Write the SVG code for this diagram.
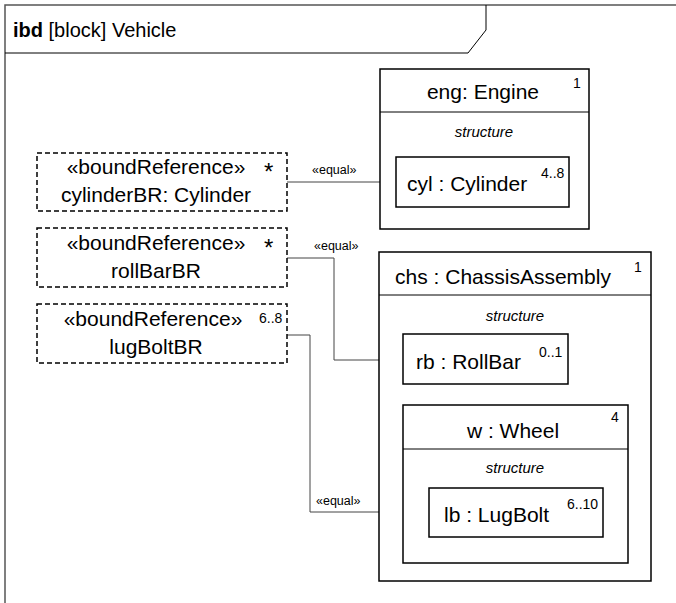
<svg xmlns="http://www.w3.org/2000/svg" width="676" height="603" viewBox="0 0 676 603">
<style>
text{font-family:"Liberation Sans",Arial,sans-serif;fill:#000}
.box{fill:#fff;stroke:#000;stroke-width:1.5}
.ref{fill:#fff;stroke:#000;stroke-width:1.5;stroke-dasharray:5 3}
.div{stroke:#000;stroke-width:1}
.name{font-size:21px;text-anchor:middle}
.part{font-size:21px}
.struct{font-size:15px;font-style:italic;text-anchor:middle}
.mult{font-size:14px}
.eq{font-size:12.5px}
.conn{fill:none;stroke:#444;stroke-width:1}
</style>
<g id="frame">
<path d="M5,603 V5 H676" fill="none" stroke="#555" stroke-width="1.5"/>
<path d="M5,53 H468 L486,30 V5" fill="none" stroke="#000" stroke-width="1"/>
<text x="13" y="37" font-size="20"><tspan font-weight="bold">ibd</tspan> [block] Vehicle</text>
</g>
<g id="connectors">
<path class="conn" d="M287,182 H396"/>
<text class="eq" x="312" y="174">«equal»</text>
<path class="conn" d="M287,258 H334 V360 H403"/>
<text class="eq" x="314" y="250">«equal»</text>
<path class="conn" d="M287,335 H310 V512 H429"/>
<text class="eq" x="316" y="505">«equal»</text>
</g>
<g id="cylinderBR">
<rect class="ref" x="37" y="153" width="250" height="58"/>
<text class="name" x="156" y="174">«boundReference»</text>
<text x="264" y="180" font-size="24">*</text>
<text class="name" x="156" y="202">cylinderBR: Cylinder</text>
</g>
<g id="rollBarBR">
<rect class="ref" x="37" y="228" width="250" height="59"/>
<text class="name" x="156" y="250">«boundReference»</text>
<text x="264" y="256" font-size="24">*</text>
<text class="name" x="156" y="278">rollBarBR</text>
</g>
<g id="lugBoltBR">
<rect class="ref" x="37" y="304" width="250" height="59"/>
<text class="name" x="153" y="326">«boundReference»</text>
<text class="mult" x="259" y="323">6..8</text>
<text class="name" x="156" y="354">lugBoltBR</text>
</g>
<g id="eng">
<rect class="box" x="380" y="69" width="209" height="160"/>
<line class="div" x1="380" y1="112" x2="589" y2="112"/>
<text class="name" x="483" y="99">eng: Engine</text>
<text class="mult" x="573" y="88">1</text>
<text class="struct" x="484" y="137">structure</text>
</g>
<g id="cyl">
<rect class="box" x="396" y="157" width="173" height="50"/>
<text class="part" x="407" y="191">cyl : Cylinder</text>
<text class="mult" x="541" y="178">4..8</text>
</g>
<g id="chs">
<rect class="box" x="379" y="252" width="272" height="329"/>
<line class="div" x1="379" y1="295" x2="651" y2="295"/>
<text class="name" x="503" y="284">chs : ChassisAssembly</text>
<text class="mult" x="634" y="272">1</text>
<text class="struct" x="515" y="321">structure</text>
</g>
<g id="rb">
<rect class="box" x="403" y="334" width="165" height="50"/>
<text class="part" x="416" y="369">rb : RollBar</text>
<text class="mult" x="539" y="357">0..1</text>
</g>
<g id="w">
<rect class="box" x="403" y="405" width="225" height="158"/>
<line class="div" x1="403" y1="449" x2="628" y2="449"/>
<text class="name" x="513" y="438">w : Wheel</text>
<text class="mult" x="611" y="422">4</text>
<text class="struct" x="515" y="473">structure</text>
</g>
<g id="lb">
<rect class="box" x="429" y="488" width="174" height="49"/>
<text class="part" x="444" y="522">lb : LugBolt</text>
<text class="mult" x="567" y="509">6..10</text>
</g>
</svg>
